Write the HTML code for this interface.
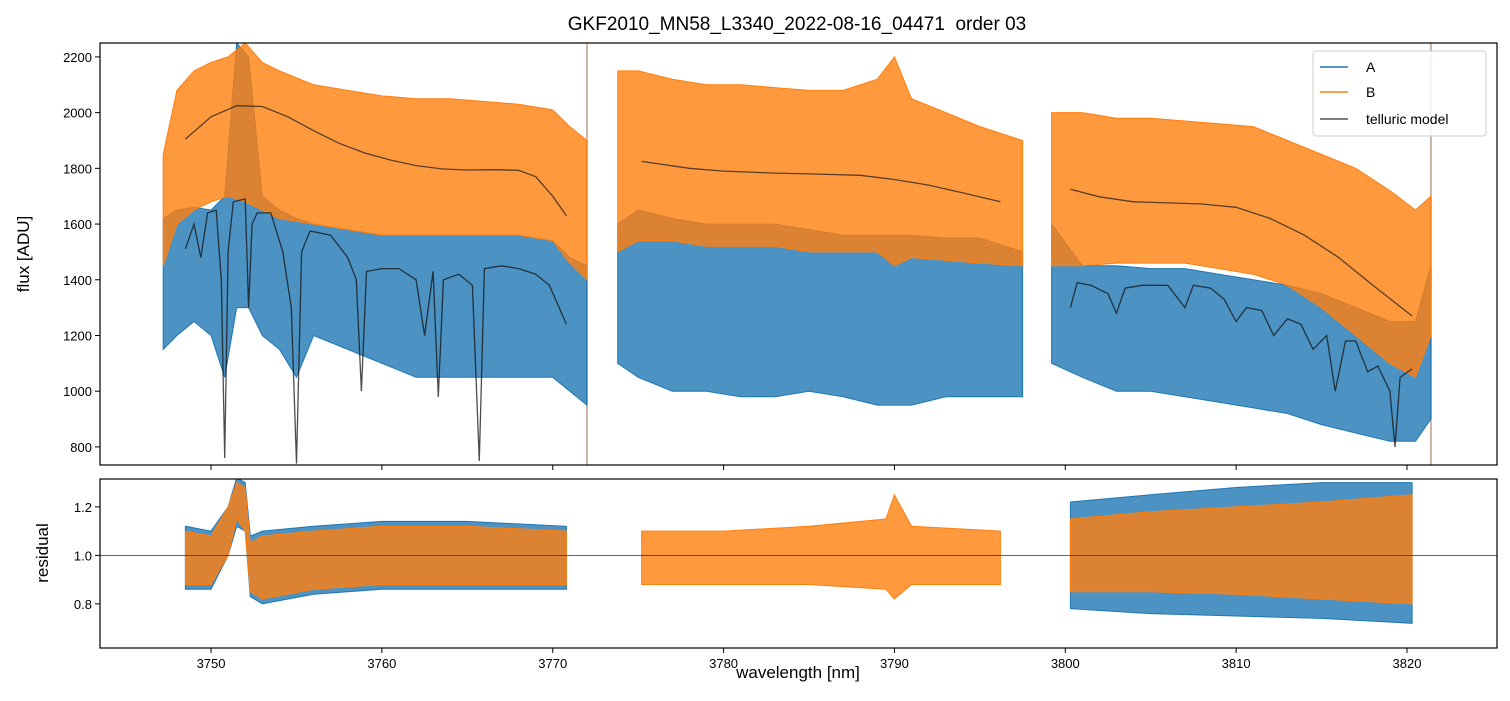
<!DOCTYPE html>
<html><head><meta charset="utf-8"><style>
body{margin:0;background:#fff;}
svg text{font-family:"Liberation Sans","DejaVu Sans",sans-serif;fill:#000;}
</style></head><body>
<svg id="c" width="1510" height="696" xmlns="http://www.w3.org/2000/svg">
<text x="797" y="30" font-size="19" text-anchor="middle" style="white-space:pre">GKF2010_MN58_L3340_2022-08-16_04471  order 03</text>
<g id="topPanel"></g>
<g id="botPanel"></g>
<text transform="translate(29,254) rotate(-90)" font-size="17" text-anchor="middle">flux [ADU]</text>
<text transform="translate(48,553) rotate(-90)" font-size="17" text-anchor="middle">residual</text>
<text x="798" y="678" font-size="17" text-anchor="middle">wavelength [nm]</text>
</svg>
<script>
// ---- data ----
const xTicks=[3750,3760,3770,3780,3790,3800,3810,3820];
const yTicks=[800,1000,1200,1400,1600,1800,2000,2200];
const rTicks=[0.8,1.0,1.2];
const bWl=[3747.2,3748,3749,3750,3751,3752,3753,3754,3756,3758,3760,3762,3764,3766,3768,3770,3771,3772,null,3773.8,3775,3777,3779,3781,3783,3785,3787,3789,3790,3791,3793,3795,3797.5,null,3799.2,3801,3803,3805,3807,3809,3811,3813,3815,3817,3819,3820.5,3821.4];
const bHi=[1850,2080,2150,2180,2200,2250,2180,2150,2100,2080,2060,2050,2050,2040,2030,2010,1950,1900,null,2150,2150,2120,2100,2100,2090,2080,2080,2120,2200,2050,2000,1950,1900,null,2000,2000,1980,1980,1970,1960,1950,1900,1850,1800,1720,1650,1700];
const bLo=[1450,1600,1650,1680,1700,1680,1650,1620,1600,1580,1560,1560,1560,1560,1560,1540,1460,1400,null,1500,1540,1540,1520,1520,1520,1500,1500,1500,1450,1480,1470,1460,1450,null,1450,1450,1460,1460,1460,1440,1420,1380,1300,1200,1100,1050,1200];
const aWl=[3747.2,3748,3749,3750,3750.8,3751.5,3752.2,3753,3754,3755,3756,3758,3760,3762,3764,3766,3768,3770,3771,3772,null,3773.8,3775,3777,3779,3781,3783,3785,3787,3789,3791,3793,3795,3797.5,null,3799.2,3801,3803,3805,3807,3809,3811,3813,3815,3817,3819,3820.5,3821.4];
const aHi=[1620,1650,1660,1650,1700,2250,2200,1700,1650,1620,1600,1580,1560,1560,1560,1560,1560,1540,1480,1450,null,1600,1650,1620,1600,1600,1600,1580,1560,1560,1560,1550,1550,1500,null,1600,1450,1450,1440,1440,1420,1400,1380,1350,1300,1250,1250,1450];
const aLo=[1150,1200,1250,1200,1050,1300,1300,1200,1150,1050,1200,1150,1100,1050,1050,1050,1050,1050,1000,950,null,1100,1050,1000,1000,980,980,1000,980,950,950,980,980,980,null,1100,1050,1000,1000,980,960,940,920,880,850,820,820,900];
const mBWl=[3748.5,3750,3751.5,3753,3754.5,3756,3757.5,3759,3760.5,3762,3763.5,3765,3766.5,3768,3769,3770,3770.8,null,3775.2,3778,3780,3783,3785,3788,3790,3792,3794,3796.2,null,3800.3,3802,3804,3806,3808,3810,3812,3814,3816,3818,3820.3];
const mBv=[1905,1985,2025,2022,1985,1935,1890,1855,1830,1810,1798,1794,1795,1793,1770,1700,1630,null,1825,1800,1790,1783,1780,1775,1760,1740,1712,1680,null,1725,1698,1680,1676,1672,1660,1620,1560,1480,1380,1270];
const mAWl=[3748.5,3749,3749.4,3749.8,3750.3,3750.6,3750.8,3751,3751.3,3752,3752.2,3752.4,3752.7,3753.5,3754.2,3754.7,3755,3755.3,3755.8,3757,3758,3758.5,3758.8,3759.1,3760,3761,3762,3762.5,3763,3763.3,3763.6,3764.5,3765.3,3765.7,3766,3767,3768,3769,3769.8,3770.8,null,3800.3,3800.7,3801.5,3802.5,3803,3803.5,3804.5,3806,3807,3807.5,3808.5,3809.3,3810,3810.6,3811.5,3812.2,3813,3813.8,3814.5,3815.3,3815.8,3816.4,3817,3817.7,3818.3,3819,3819.3,3819.6,3820.3];
const mAv=[1510,1600,1480,1640,1650,1400,760,1500,1680,1690,1300,1600,1640,1640,1500,1300,740,1500,1575,1560,1480,1400,1000,1430,1440,1440,1400,1200,1430,980,1400,1420,1380,750,1440,1450,1440,1420,1380,1240,null,1300,1390,1380,1350,1280,1370,1380,1380,1300,1380,1370,1330,1250,1300,1290,1200,1260,1240,1150,1200,1000,1180,1180,1070,1090,1000,800,1050,1080];
const rWl=[3748.5,3750,3751,3751.5,3752,3752.3,3753,3756,3760,3765,3770.8,null,3775.2,3780,3785,3789.5,3790,3791,3796.2,null,3800.3,3805,3810,3815,3820.3];
const rBHi=[1.1,1.08,1.2,1.3,1.28,1.05,1.08,1.1,1.12,1.12,1.1,null,1.1,1.1,1.12,1.15,1.25,1.12,1.1,null,1.15,1.18,1.2,1.22,1.25];
const rBLo=[0.88,0.88,1.0,1.15,1.1,0.85,0.82,0.86,0.88,0.88,0.88,null,0.88,0.88,0.88,0.86,0.82,0.88,0.88,null,0.85,0.85,0.84,0.82,0.8];
const rAHi=[1.12,1.1,1.2,1.32,1.3,1.08,1.1,1.12,1.14,1.14,1.12,null,1.0,1.0,1.0,1.0,1.0,1.0,1.0,null,1.22,1.25,1.28,1.3,1.3];
const rALo=[0.86,0.86,1.0,1.12,1.1,0.83,0.8,0.84,0.86,0.86,0.86,null,1.0,1.0,1.0,1.0,1.0,1.0,1.0,null,0.78,0.76,0.75,0.74,0.72];
const maskLines=[3772,3821.4];

// ---- axes ----
const X0=100,X1=1497,xMin=3743.5,xMax=3825.27;
const sx=v=>X0+(v-xMin)/(xMax-xMin)*(X1-X0);
const T0=43,T1=465,yMin=735,yMax=2250;
const sy=v=>T1-(v-yMin)/(yMax-yMin)*(T1-T0);
const B0=479,B1=648,rMin=0.618,rMax=1.315;
const sr=v=>B1-(v-rMin)/(rMax-rMin)*(B1-B0);
const NS="http://www.w3.org/2000/svg";
const svgRoot=document.getElementById('c');
function mk(parent,tag,attrs){const e=document.createElementNS(NS,tag);for(const k in attrs)e.setAttribute(k,attrs[k]);parent.appendChild(e);return e;}
function segs(wl){const out=[];let cur=[];wl.forEach((w,i)=>{if(w===null){if(cur.length)out.push(cur);cur=[];}else cur.push(i);});if(cur.length)out.push(cur);return out;}
function band(g,wl,hi,lo,ys,color,name){
  segs(wl).forEach(idx=>{
    let d=idx.map((i,k)=>(k?'L':'M')+sx(wl[i]).toFixed(1)+','+ys(hi[i]).toFixed(1)).join('');
    d+=idx.slice().reverse().map(i=>'L'+sx(wl[i]).toFixed(1)+','+ys(lo[i]).toFixed(1)).join('')+'Z';
    const p=mk(g,'path',{d:d,fill:color,'fill-opacity':0.8,stroke:color,'stroke-width':1});
    
    
  });
}
function line(g,wl,v,ys,color,w,name){
  segs(wl).forEach(idx=>{
    const d=idx.map((i,k)=>(k?'L':'M')+sx(wl[i]).toFixed(1)+','+ys(v[i]).toFixed(1)).join('');
    const p=mk(g,'path',{d:d,fill:'none',stroke:color,'stroke-width':w,'stroke-opacity':0.75});
    
    
  });
}
const topG=document.getElementById('topPanel'),botG=document.getElementById('botPanel');
const defs=mk(svgRoot,'defs',{});
const c1=mk(defs,'clipPath',{id:'ct'});mk(c1,'rect',{x:X0,y:T0,width:X1-X0,height:T1-T0});
const c2=mk(defs,'clipPath',{id:'cb'});mk(c2,'rect',{x:X0,y:B0,width:X1-X0,height:B1-B0});
const tg=mk(topG,'g',{'clip-path':'url(#ct)'});
const bg=mk(botG,'g',{'clip-path':'url(#cb)'});
maskLines.forEach(m=>{
  const l=mk(tg,'line',{x1:sx(m),x2:sx(m),y1:T0,y2:T1,stroke:'#c8b4a0','stroke-width':2});
  
  
});
band(tg,aWl,aHi,aLo,sy,'#1f77b4','series-a-band');
band(tg,bWl,bHi,bLo,sy,'#ff7f0e','series-b-band');
line(tg,mBWl,mBv,sy,'#222',1.3,'telluric-model-b');
line(tg,mAWl,mAv,sy,'#111',1.3,'telluric-model-a');
band(bg,rWl,rAHi,rALo,sr,'#1f77b4','residual-a-band');
band(bg,rWl,rBHi,rBLo,sr,'#ff7f0e','residual-b-band');
const ref=mk(bg,'line',{x1:X0,x2:X1,y1:sr(1),y2:sr(1),stroke:'#333','stroke-width':0.8});


[[T0,T1],[B0,B1]].forEach(([a,b])=>{
  const r=mk(svgRoot,'rect',{x:X0,y:a,width:X1-X0,height:b-a,fill:'none',stroke:'#000','stroke-width':1.2});
  
  
});
xTicks.forEach(t=>{
  [T1,B1].forEach(yb=>mk(svgRoot,'line',{x1:sx(t),x2:sx(t),y1:yb,y2:yb+5,stroke:'#000'}));
  const tx=mk(botG,'text',{x:sx(t),y:B1+20,'font-size':13,'text-anchor':'middle'});tx.textContent=t;
  
  
});
yTicks.forEach(t=>{
  mk(topG,'line',{x1:X0-5,x2:X0,y1:sy(t),y2:sy(t),stroke:'#000'});
  const tx=mk(topG,'text',{x:X0-8,y:sy(t)+5,'font-size':13,'text-anchor':'end'});tx.textContent=t;
  
  
});
rTicks.forEach(t=>{
  mk(botG,'line',{x1:X0-5,x2:X0,y1:sr(t),y2:sr(t),stroke:'#000'});
  const tx=mk(botG,'text',{x:X0-8,y:sr(t)+5,'font-size':13,'text-anchor':'end'});tx.textContent=t.toFixed(1);
  
  
});
const lg=mk(topG,'g',{});


mk(lg,'rect',{x:1313,y:51,width:173,height:85,rx:3,fill:'#fff','fill-opacity':0.85,stroke:'#ccc'});
[['A','#1f77b4',67],['B','#ff7f0e',92],['telluric model','#555',119]].forEach(([n,c,y])=>{
  const e=mk(lg,'g',{});
  
  
  mk(e,'line',{x1:1320,x2:1348,y1:y,y2:y,stroke:c,'stroke-width':1.6});
  const t=mk(e,'text',{x:1366,y:y+5,'font-size':14});t.textContent=n;
});
</script>
</body></html>
